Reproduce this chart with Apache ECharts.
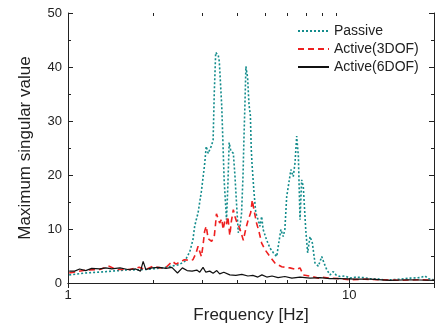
<!DOCTYPE html>
<html>
<head>
<meta charset="utf-8">
<script src="https://cdn.jsdelivr.net/npm/echarts@6/dist/echarts.min.js"></script>
<style>html,body{margin:0;padding:0;background:#fff}#c{width:435px;height:325px}</style>
</head>
<body>
<div id="c"></div>
<script>
// Passive
const passiveFreq = [1.01,1.156,1.362,1.604,1.89,2.17,2.48,2.60,2.71,2.78,2.82,2.86,2.90,2.98,3.06,3.10,3.15,3.24,3.28,3.31,3.35,3.42,3.45,3.52,3.59,3.66,3.70,3.74,3.79,3.87,3.92,3.97,4.03,4.08,4.14,4.19,4.22,4.26,4.29,4.35,4.40,4.45,4.48,4.51,4.58,4.65,4.74,4.81,4.88,4.94,5.08,5.22,5.37,5.52,5.59,5.71,5.82,5.90,5.99,6.07,6.20,6.32,6.41,6.50,6.59,6.68,6.77,6.86,7.00,7.11,7.25,7.39,7.55,7.76,7.98,8.13,8.31,8.54,8.77,8.97,9.27,9.66,10.05,10.56,11.22,11.85,12.51,13.2,14.19,15.15,16.44,17.85,18.6,19.05,20];
const passiveVal  = [1.5,1.85,2.1,2.4,2.5,2.8,3.4,4.0,5.8,8,10.5,11.8,13,17,22,25.3,24,25.5,26.5,35,42.7,42.2,41,32.7,19,11.7,18,26,24.5,24,20,15,9.3,10,13,20,26.5,34,40.1,38,33,31,25,22,17,13,11.7,10.5,12.3,9.9,8,6.5,5.6,4.9,6.8,9.9,8.6,9.9,16,17.9,21,19.7,22.2,27.2,23.5,11.7,19.1,17.9,9.9,5.6,8.6,7.4,3.7,3.1,4.9,3.7,2.5,1.5,2.1,1.5,1.2,1.3,0.9,1.1,1.0,0.8,0.8,0.6,0.6,0.7,0.9,1.0,1.3,0.8,0.6];
// Active (3DOF)
const active3Freq = [1.01,1.156,1.297,1.40,1.48,1.66,1.79,1.89,2.0,2.12,2.23,2.35,2.42,2.50,2.59,2.71,2.78,2.85,2.90,2.98,3.02,3.06,3.10,3.15,3.24,3.31,3.34,3.37,3.42,3.46,3.52,3.56,3.61,3.66,3.70,3.76,3.81,3.87,3.92,3.98,4.05,4.12,4.20,4.28,4.37,4.46,4.52,4.58,4.68,4.77,4.88,5.01,5.22,5.44,5.75,6.15,6.50,6.68,6.86,7.35,7.76,7.98,8.54,9.27,10.05,11.37,12.86,15.15,17.85,20];
const active3Val  = [1.85,2.4,2.5,3.1,2.5,2.5,2.9,2.5,3.1,2.8,2.9,4.0,3.5,3.9,4.3,4.2,4.3,5.5,6.8,4.9,7,9.6,10.5,8.2,7.7,8.6,10.5,12.8,13,11.1,11.9,9.9,11.5,10.9,12.3,8.8,11.5,13.6,12.3,11.3,10.5,9.4,7.9,9.9,11.7,13,15.4,13.6,11.1,9.6,7.4,6.2,4.9,3.7,3.0,2.8,2.5,2.8,1.5,1.2,0.9,1.1,0.9,0.8,0.6,0.7,0.6,0.5,0.6,0.5];
// Active (6DOF)
const active6Freq = [1.01,1.056,1.10,1.156,1.214,1.297,1.362,1.43,1.53,1.63,1.74,1.81,1.85,1.89,1.99,2.11,2.23,2.34,2.45,2.55,2.65,2.76,2.87,2.94,3.02,3.09,3.19,3.28,3.38,3.46,3.58,3.76,3.95,4.15,4.36,4.54,4.73,4.89,5.09,5.31,5.58,5.90,6.25,6.68,7.25,7.87,8.54,9.27,10.48,11.85,13.95,16.44,20];
const active6Val  = [2.2,2.2,2.6,2.3,2.7,2.6,2.8,2.6,2.8,2.5,2.6,2.2,4.0,2.5,2.8,2.9,2.7,2.9,1.85,2.8,2.3,2.2,2.4,2.0,2.9,2.0,2.2,1.8,2.3,1.7,2.0,1.5,1.4,1.6,1.3,1.4,1.1,1.5,1.1,1.3,1.0,1.2,0.9,1.1,0.9,1.0,0.8,0.8,0.7,0.7,0.5,0.6,0.5];
// axis ticks
const xMajorLabels = [1, 10];
const xMinorTicks = [2,3,4,5,6,7,8,9];
const seriesNames = ['Passive', 'Active(3DOF)', 'Active(6DOF)'];

const zip = (a, b) => a.map((v, i) => [v, b[i]]);
const FONT = '"Liberation Sans", Arial, sans-serif';
const AX = '#222';

const chart = echarts.init(document.getElementById('c'), null, {renderer: 'canvas'});
const commonX = {
  type: 'log', logBase: 10, min: 1, max: 20,
  axisLine: {show: true, lineStyle: {color: AX, width: 1}},
  splitLine: {show: false},
  axisTick: {show: true, inside: true, length: 5, lineStyle: {color: AX}},
};
const commonY = {
  type: 'value', min: 0, max: 50, interval: 10,
  axisLine: {show: true, lineStyle: {color: AX, width: 1}},
  splitLine: {show: false},
  axisTick: {show: true, inside: true, length: 5, lineStyle: {color: AX}},
  minorTick: {show: true, splitNumber: 2, length: 3, lineStyle: {color: AX}},
};
chart.setOption({
  animation: false,
  backgroundColor: '#fff',
  grid: {left: 68, top: 13, right: 1, bottom: 42, containLabel: false, outerBoundsMode: 'none'},
  legend: {
    data: seriesNames,
    orient: 'vertical', left: 292, top: 19,
    itemWidth: 31, itemHeight: 14, itemGap: 4,
    itemStyle: {opacity: 0},
    textStyle: {fontFamily: FONT, fontSize: 14, color: '#222'},
  },
  xAxis: [
    Object.assign({}, commonX, {
      position: 'bottom',
      name: 'Frequency [Hz]', nameLocation: 'middle', nameGap: 24,
      nameTextStyle: {fontFamily: FONT, fontSize: 17, color: '#222'},
      axisLabel: {fontFamily: FONT, fontSize: 13, color: '#222', margin: 6,
        showMaxLabel: false,
        formatter: v => (xMajorLabels.indexOf(Math.round(v)) >= 0 && Math.abs(v - Math.round(v)) < 1e-6) ? String(Math.round(v)) : ''},
    }),
    Object.assign({}, commonX, {position: 'top', axisLabel: {show: false}}),
  ],
  yAxis: [
    Object.assign({}, commonY, {
      position: 'left',
      name: 'Maximum singular value', nameLocation: 'middle', nameGap: 34,
      nameTextStyle: {fontFamily: FONT, fontSize: 17, color: '#222'},
      axisLabel: {fontFamily: FONT, fontSize: 13, color: '#222', margin: 6},
    }),
    Object.assign({}, commonY, {position: 'right', axisLabel: {show: false}}),
  ],
  series: [
    {
      name: 'Passive', type: 'line', data: zip(passiveFreq, passiveVal),
      showSymbol: false, symbol: 'none', clip: true, z: 3,
      lineStyle: {color: '#138c8c', width: 1.6, type: [2, 2]},
      itemStyle: {color: '#138c8c'},
    },
    {
      name: 'Active(3DOF)', type: 'line', data: zip(active3Freq, active3Val),
      showSymbol: false, symbol: 'none', clip: true, z: 4,
      lineStyle: {color: '#ee2020', width: 1.6, type: [6, 4]},
      itemStyle: {color: '#ee2020'},
    },
    {
      name: 'Active(6DOF)', type: 'line', data: zip(active6Freq, active6Val),
      showSymbol: false, symbol: 'none', clip: true, z: 5,
      lineStyle: {color: '#111', width: 1.2, type: 'solid'},
      itemStyle: {color: '#111'},
    },
    {
      type: 'custom', silent: true, z: 6,
      data: xMinorTicks.map(v => [v, 0]),
      renderItem: (params, api) => {
        const cs = params.coordSys;
        const x = Math.round(api.coord([api.value(0), 0])[0]) + 0.5;
        const b = cs.y + cs.height, t = cs.y;
        return {type: 'group', children: [
          {type: 'line', shape: {x1: x, y1: b, x2: x, y2: b - 3}, style: {stroke: AX, lineWidth: 1}},
          {type: 'line', shape: {x1: x, y1: t, x2: x, y2: t + 3}, style: {stroke: AX, lineWidth: 1}},
        ]};
      },
    },
  ],
});
</script>
</body>
</html>
